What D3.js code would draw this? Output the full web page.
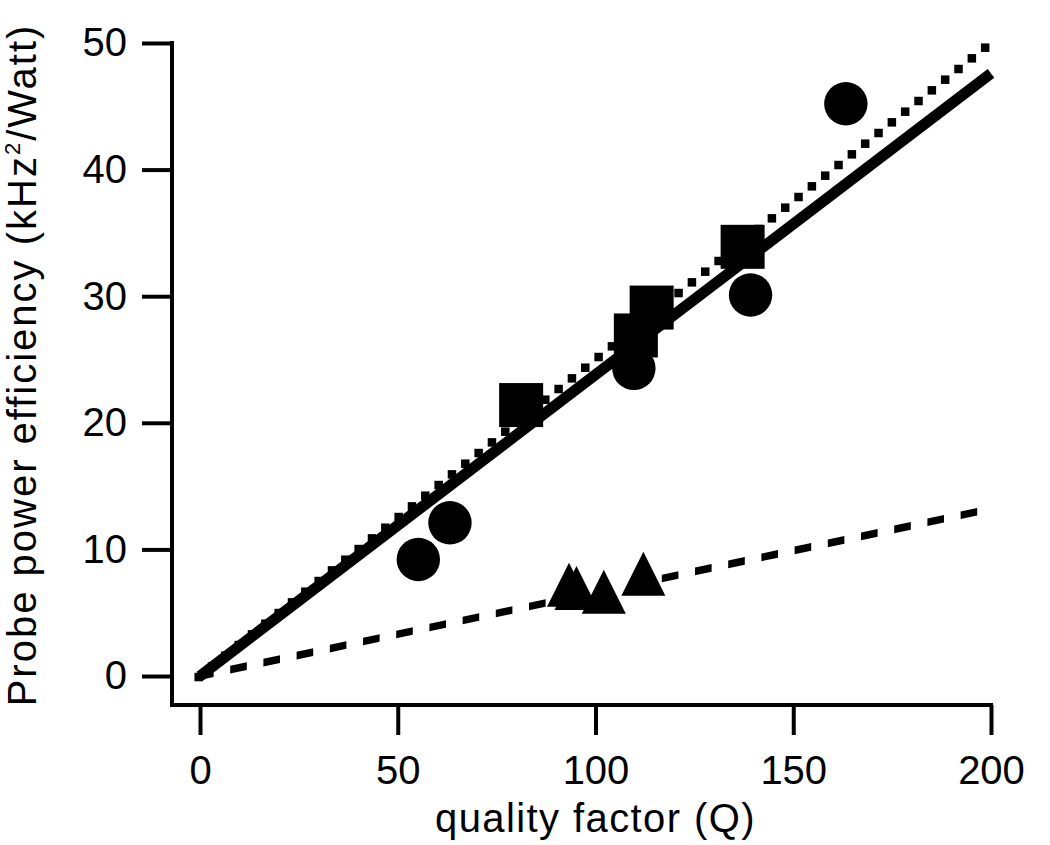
<!DOCTYPE html>
<html>
<head>
<meta charset="utf-8">
<script src="https://cdn.jsdelivr.net/npm/d3@7/dist/d3.min.js"></script>
<style>
  html, body { margin: 0; padding: 0; background: #fff; }
  svg { display: block; }
  text { font-family: "Liberation Sans", Arial, Helvetica, sans-serif; fill: #000; }
</style>
</head>
<body>
<svg id="chart" width="1050" height="845"></svg>
<script>
// ---- data ----
const xTicks = [0, 50, 100, 150, 200];
const yTicks = [0, 10, 20, 30, 40, 50];

const circleQ   = [55.2, 63.2, 109.7, 139.2, 163.3];
const circleEff = [9.2, 12.1, 24.3, 30.1, 45.2];

const squareQ   = [81.2, 110.2, 114.2, 137.2];
const squareEff = [21.4, 26.9, 29.1, 33.9];

const triangleQ   = [93.3, 95.2, 102.1, 112.1];
const triangleEff = [7.2, 6.95, 6.66, 8.08];

const solidFitQ   = [0, 200];
const solidFitEff = [0, 47.6];
const dottedFitQ   = [0, 200];
const dottedFitEff = [0, 50];
const dashedFitQ   = [0, 200];
const dashedFitEff = [0, 13.2];

const xLabel = "quality factor (Q)";

// ---- layout ----
const svg = d3.select("#chart");
const x = d3.scaleLinear().domain([0, 200]).range([200, 991]);
const y = d3.scaleLinear().domain([0, 50]).range([676, 43]);

const yAxisX = 172;     // left axis line position
const xAxisY = 705;     // bottom axis line position
const tickLen = 30;
const axisW = 4;
const fontSize = 40;

// ---- axes ----
const axes = svg.append("g");
axes.append("line")
  .attr("x1", yAxisX).attr("x2", yAxisX)
  .attr("y1", y(50) - axisW / 2).attr("y2", xAxisY + axisW / 2)
  .attr("stroke", "#000").attr("stroke-width", axisW);
axes.append("line")
  .attr("x1", yAxisX - axisW / 2).attr("x2", x(200) + axisW / 2)
  .attr("y1", xAxisY).attr("y2", xAxisY)
  .attr("stroke", "#000").attr("stroke-width", axisW);

const yAxis = d3.axisLeft(y).tickValues(yTicks).tickSize(tickLen).tickSizeOuter(0).tickPadding(15).tickFormat(d3.format("d"));
const gy = svg.append("g").attr("transform", `translate(${yAxisX},0)`).call(yAxis);
gy.select(".domain").remove();
gy.selectAll(".tick line").attr("stroke", "#000").attr("stroke-width", axisW);
gy.selectAll(".tick text").attr("font-size", fontSize).attr("fill", "#000")
  .style("font-family", '"Liberation Sans", Arial, Helvetica, sans-serif');

const xAxis = d3.axisBottom(x).tickValues(xTicks).tickSize(tickLen).tickSizeOuter(0).tickPadding(21).tickFormat(d3.format("d"));
const gx = svg.append("g").attr("transform", `translate(0,${xAxisY})`).call(xAxis);
gx.select(".domain").remove();
gx.selectAll(".tick line").attr("stroke", "#000").attr("stroke-width", axisW);
gx.selectAll(".tick text").attr("font-size", fontSize).attr("fill", "#000")
  .style("font-family", '"Liberation Sans", Arial, Helvetica, sans-serif');

// axis titles
svg.append("text")
  .attr("x", (x(0) + x(200)) / 2).attr("y", 832)
  .attr("text-anchor", "middle").attr("font-size", fontSize)
  .style("letter-spacing", "1.4px")
  .text(xLabel);

const yt = svg.append("text")
  .attr("transform", `translate(36,365) rotate(-90)`)
  .attr("text-anchor", "middle").attr("font-size", fontSize)
  .style("letter-spacing", "2px");
yt.append("tspan").text("Probe power efficiency (kHz");
yt.append("tspan").attr("font-size", 22).attr("dy", -16).text("2");
yt.append("tspan").attr("dy", 16).text("/Watt)");

// ---- fit lines ----
const plot = svg.append("g");
const lineGen = d3.line().x(d => x(d[0])).y(d => y(d[1]));

// solid
plot.append("path")
  .datum(d3.zip(solidFitQ, solidFitEff))
  .attr("d", lineGen)
  .attr("fill", "none").attr("stroke", "#000").attr("stroke-width", 11)
  .attr("stroke-linecap", "butt");

// dotted: axis-aligned square dots along the fit
const dotSize = 8.5, dotStep = 13.33;
const dottedSlope = d3.scaleLinear().domain(dottedFitQ).range(dottedFitEff);
const dotCenters = [];
for (let px = x(0) - 1.3; px <= x(200) + 0.5; px += dotStep) {
  dotCenters.push([px, y(dottedSlope(x.invert(px)))]);
}
plot.append("g").selectAll("rect").data(dotCenters).join("rect")
  .attr("x", d => d[0] - dotSize / 2).attr("y", d => d[1] - dotSize / 2)
  .attr("width", dotSize).attr("height", dotSize).attr("fill", "#000");

// dashed: short parallelograms with vertical ends
const dashedSlope = d3.scaleLinear().domain(dashedFitQ).range(dashedFitEff);
const dashLen = 16.6, dashStep = 33.2, dashHalf = 3.8;
const dashes = [];
for (let px = x(0) - 3; px + dashLen <= x(200) + 1; px += dashStep) {
  const xa = px, xb = px + dashLen;
  const ya = y(dashedSlope(x.invert(xa))), yb = y(dashedSlope(x.invert(xb)));
  dashes.push(`M${xa},${ya - dashHalf}L${xb},${yb - dashHalf}L${xb},${yb + dashHalf}L${xa},${ya + dashHalf}Z`);
}
plot.append("g").selectAll("path").data(dashes).join("path")
  .attr("d", d => d).attr("fill", "#000");

// ---- markers ----
const mk = svg.append("g");
mk.selectAll("circle").data(d3.zip(circleQ, circleEff)).join("circle")
  .attr("cx", d => x(d[0])).attr("cy", d => y(d[1])).attr("r", 21.7).attr("fill", "#000");

const sq = 44;
mk.selectAll("rect").data(d3.zip(squareQ, squareEff)).join("rect")
  .attr("x", d => x(d[0]) - sq / 2).attr("y", d => y(d[1]) - sq / 2)
  .attr("width", sq).attr("height", sq).attr("fill", "#000");

const tw = 44, th = 44;
mk.selectAll("path.tri").data(d3.zip(triangleQ, triangleEff)).join("path")
  .attr("class", "tri")
  .attr("d", d => {
    const cx = x(d[0]), cy = y(d[1]);
    return `M${cx},${cy - th / 2}L${cx + tw / 2},${cy + th / 2}L${cx - tw / 2},${cy + th / 2}Z`;
  })
  .attr("fill", "#000");
</script>
</body>
</html>
